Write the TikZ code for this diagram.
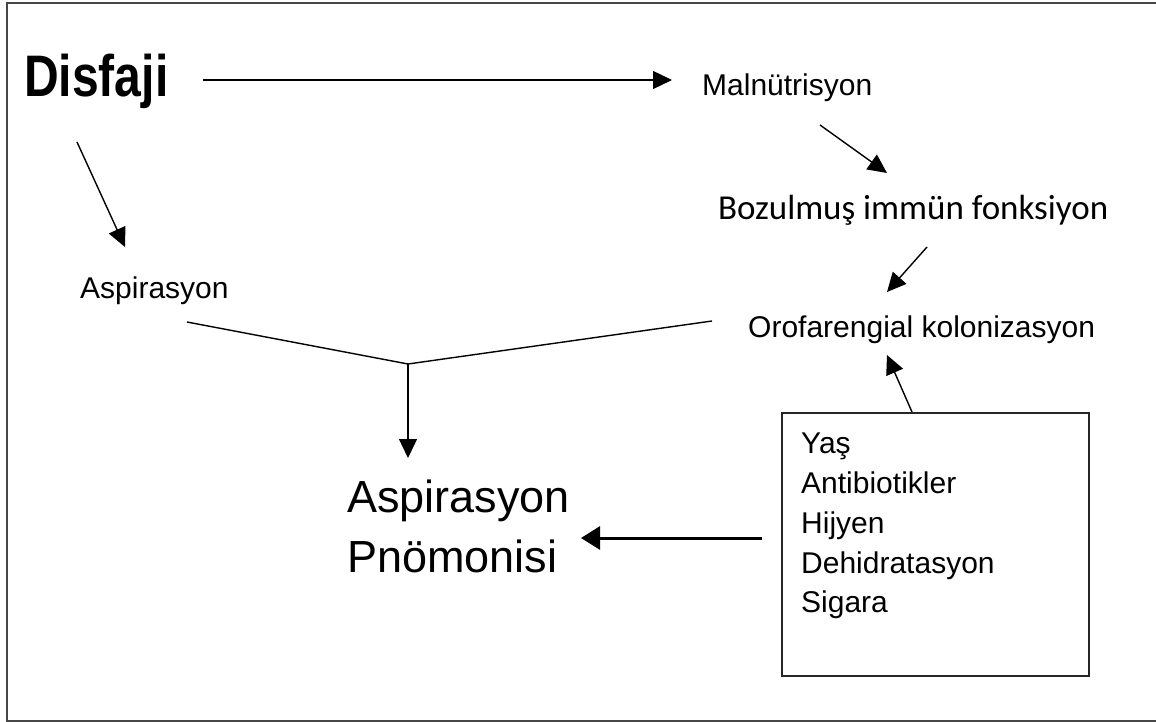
\documentclass[tikz,border=0pt]{standalone}
\usepackage{fontspec}
\setmainfont{Liberation Sans}
\newfontfamily\calibrifont{Carlito}
\usetikzlibrary{arrows.meta}
\begin{document}
\begin{tikzpicture}[x=1pt,y=-1pt,
  lbl/.style={inner sep=0pt, anchor=base west, font=\fontsize{30}{36}\selectfont},
  big/.style={inner sep=0pt, anchor=base west, font=\fontsize{45}{54}\selectfont},
  con/.style={line width=1.4pt, -{Triangle[length=19pt,width=18pt]}},
  thickcon/.style={line width=3pt, -{Triangle[length=19pt,width=23pt]}},
  plain/.style={line width=1.4pt},
  framecol/.style={draw=black!72, line width=2pt},
  riskbox/.style={draw=black!85, line width=2.2pt, inner sep=0pt, anchor=north west}]
\useasboundingbox (0,0) rectangle (1156,722);
\fill[white] (0,0) rectangle (1156,722);
\draw[framecol] (1160,3) -- (7,3) -- (7,721) -- (1160,721);

% texts
\node[inner sep=0pt, anchor=base west] (dis) at (24,97)
  {\scalebox{0.82}[1]{\fontsize{58.6}{60}\selectfont\bfseries Disfaji}};
\node[lbl] (mal) at (702,96) {Malnütrisyon};
\node[inner sep=0pt, anchor=base west, font=\calibrifont\fontsize{35}{40}\selectfont] (boz) at (718,219) {Bozulmuş immün fonksiyon};
\node[lbl] (oro) at (748,337) {Orofarengial kolonizasyon};
\node[lbl] (asp) at (80,298) {Aspirasyon};
\node[big] (pnA) at (347,512) {Aspirasyon};
\node[big] (pnB) at (347,572) {Pnömonisi};

% risk factor box
\node[riskbox, minimum width=307pt, minimum height=263pt] (box) at (781,412) {};
\node[lbl] (r1) at (801,453) {Yaş};
\node[lbl] (r2) at (801,493) {Antibiotikler};
\node[lbl] (r3) at (801,533) {Hijyen};
\node[lbl] (r4) at (801,573) {Dehidratasyon};
\node[lbl] (r5) at (801,612) {Sigara};

% connector end points
\coordinate (disR) at (203,80);
\coordinate (malL) at (672,80);
\coordinate (disB) at (77,142);
\coordinate (aspT) at (125,247);
\coordinate (malB) at (820,125);
\coordinate (bozT) at (887,173);
\coordinate (bozB) at (927,247);
\coordinate (oroT) at (887,292);
\coordinate (boxT) at (912,412);
\coordinate (oroB) at (887,355);
\coordinate (aspR) at (187,322);
\coordinate (oroL) at (712,321);
\coordinate (join) at (408,364);
\coordinate (pnT) at (408,458);
\coordinate (boxL) at (762,538);
\coordinate (pnR) at (581,538);

% connectors
\draw[con] (disR) -- (malL);
\draw[con] (disB) -- (aspT);
\draw[con] (malB) -- (bozT);
\draw[con] (bozB) -- (oroT);
\draw[con] (boxT) -- (oroB);
\draw[plain, line join=miter] (aspR) -- (join) -- (oroL);
\draw[con] (join) -- (pnT);
\draw[thickcon] (boxL) -- (pnR);
\end{tikzpicture}
\end{document}
